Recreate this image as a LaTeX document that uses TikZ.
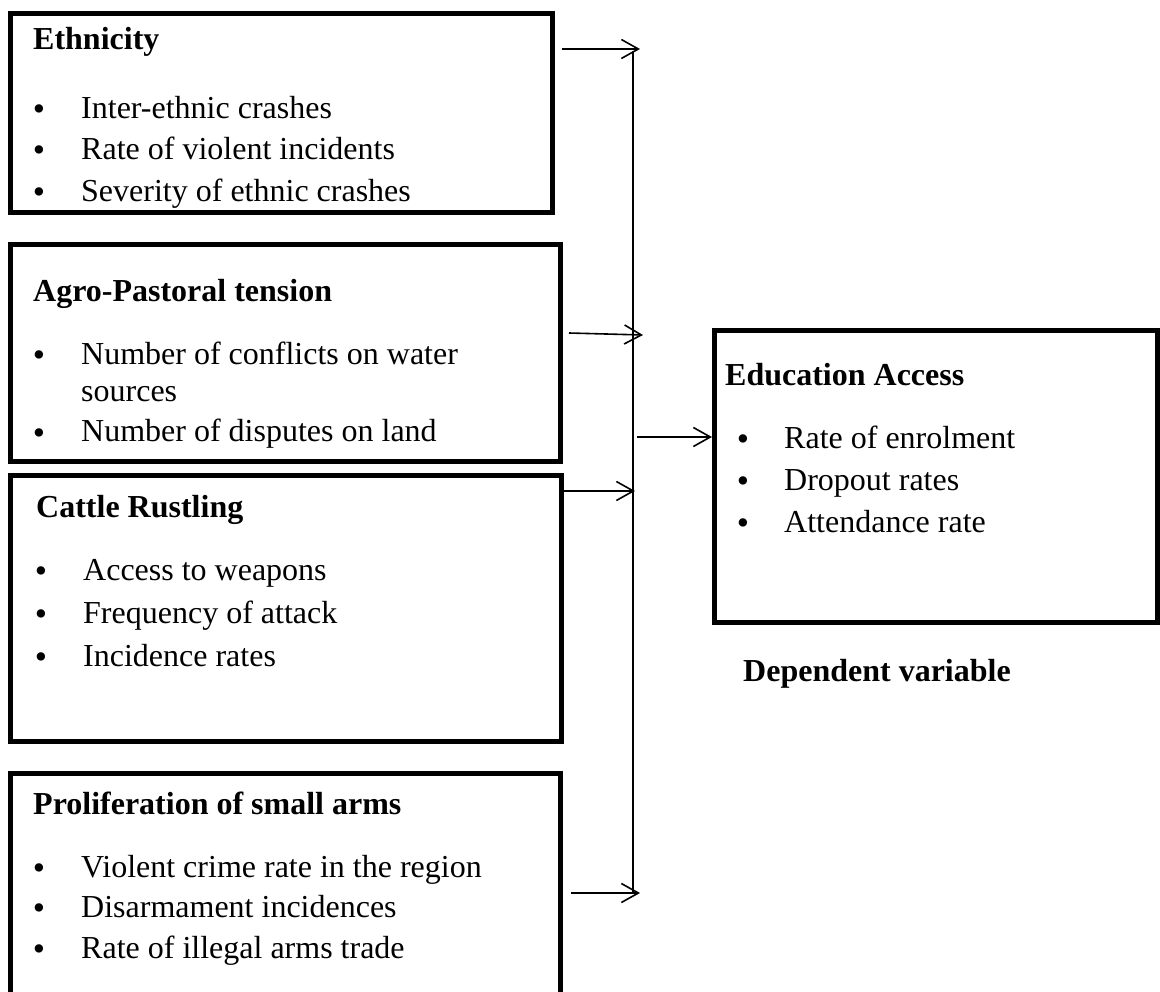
\documentclass[tikz,border=0pt]{standalone}
\usepackage{fontspec}
\setmainfont{Liberation Serif}
\usetikzlibrary{arrows.meta}
\begin{document}
\begin{tikzpicture}[x=1pt,y=-1pt,
  box/.style={draw,line width=5pt,inner sep=0pt},
  ttl/.style={anchor=base west,inner sep=0pt,font=\fontsize{32}{38}\selectfont\bfseries},
  itm/.style={anchor=base west,inner sep=0pt,font=\fontsize{32}{38}\selectfont},
  bul/.style={anchor=base,inner sep=0pt,yshift=-2pt,font=\fontsize{35}{35}\selectfont},
  conn/.style={line width=1.6pt,-{Straight Barb[length=17pt,width=19pt,line width=1.6pt]}},
  bus/.style={line width=1.6pt}
]
\useasboundingbox (0,0) rectangle (1160,992);
\clip (0,0) rectangle (1160,992);

% boxes
\node[box,minimum width=542pt,minimum height=199.5pt] (b1) at (281.5,113.25) {};
\node[box,minimum width=549.5pt,minimum height=217pt] (b2) at (285.25,353) {};
\node[box,minimum width=550.5pt,minimum height=265.5pt] (b3) at (285.75,608.25) {};
\node[box,minimum width=549.5pt,minimum height=237pt] (b4) at (285.25,891.5) {};
\node[box,minimum width=442.5pt,minimum height=292pt] (edu) at (935.75,476.5) {};

% box 1
\node[ttl] (t1) at (33,50) {Ethnicity};
\node[bul] (p11) at (39,119) {•}; \node[itm] (i11) at (81,119) {Inter-ethnic crashes};
\node[bul] (p12) at (39,160) {•}; \node[itm] (i12) at (81,160) {Rate of violent incidents};
\node[bul] (p13) at (39,202) {•}; \node[itm] (i13) at (81,202) {Severity of ethnic crashes};

% box 2
\node[ttl] (t2) at (33,302) {Agro-Pastoral tension};
\node[bul] (p21) at (39,365) {•}; \node[itm] (i21) at (81,365) {Number of conflicts on water};
\node[itm] (i22) at (81,402) {sources};
\node[bul] (p23) at (39,442) {•}; \node[itm] (i23) at (81,442) {Number of disputes on land};

% box 3
\node[ttl] (t3) at (36,517) {Cattle Rustling};
\node[bul] (p31) at (41,580) {•}; \node[itm] (i31) at (83,580) {Access to weapons};
\node[bul] (p32) at (41,623) {•}; \node[itm] (i32) at (83,623) {Frequency of attack};
\node[bul] (p33) at (41,666) {•}; \node[itm] (i33) at (83,666) {Incidence rates};

% box 4
\node[ttl] (t4) at (33,814) {Proliferation of small arms};
\node[bul] (p41) at (39,877) {•}; \node[itm] (i41) at (81,877) {Violent crime rate in the region};
\node[bul] (p42) at (39,917) {•}; \node[itm] (i42) at (81,917) {Disarmament incidences};
\node[bul] (p43) at (39,958) {•}; \node[itm] (i43) at (81,958) {Rate of illegal arms trade};

% education box
\node[ttl] (t5) at (725,385) {Education Access};
\node[bul] (p51) at (743,448) {•}; \node[itm] (i51) at (784,448) {Rate of enrolment};
\node[bul] (p52) at (743,490) {•}; \node[itm] (i52) at (784,490) {Dropout rates};
\node[bul] (p53) at (743,532) {•}; \node[itm] (i53) at (784,532) {Attendance rate};

\node[ttl] (dep) at (743,681) {Dependent variable};

% connectors
\coordinate (s1) at (562,49);  \coordinate (e1) at (640,49);
\coordinate (s2) at (569,333); \coordinate (e2) at (643,335);
\coordinate (s3) at (564,491); \coordinate (e3) at (635,491);
\coordinate (s4) at (571,893); \coordinate (e4) at (640,893);
\coordinate (vtop) at (633,51); \coordinate (vbot) at (633,893);
\coordinate (s5) at (637,437);

\draw[bus] (vtop) -- (vbot);
\draw[conn] (s1) -- (e1);
\draw[conn] (s2) -- (e2);
\draw[conn] (s3) -- (e3);
\draw[conn] (s4) -- (e4);
\draw[conn] (s5) -- (edu.west |- s5);
\end{tikzpicture}
\end{document}
